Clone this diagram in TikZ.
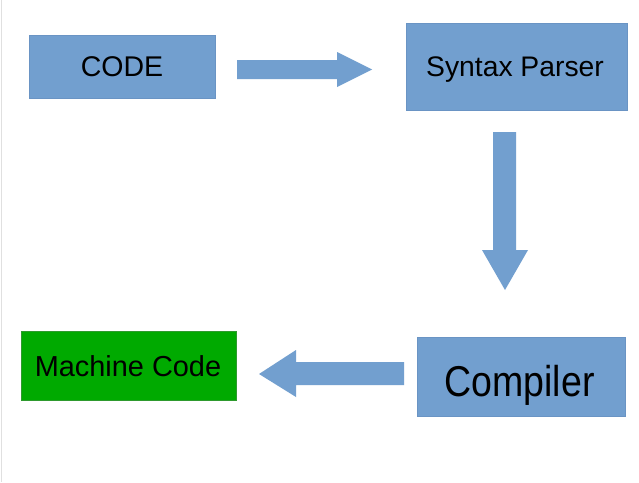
\documentclass[tikz,border=0pt]{standalone}
\usepackage{graphicx}
\usepackage{fontspec}
\setmainfont{Liberation Sans}
\definecolor{boxblue}{HTML}{729FCF}
\definecolor{edgeblue}{HTML}{6A94C4}
\definecolor{boxgreen}{HTML}{00AA00}
\definecolor{edgegreen}{HTML}{2E9A2E}
\tikzset{
  blockbox/.style={draw=edgeblue, fill=boxblue, line width=0.6pt},
  greenbox/.style={draw=edgegreen, fill=boxgreen, line width=0.6pt},
  blockarrow/.style={fill=boxblue, draw=none},
  lbl/.style={inner sep=0pt, text=black, anchor=base}
}
\begin{document}
\begin{tikzpicture}[x=1pt,y=-1pt]
\useasboundingbox (0,0) rectangle (639,482);
\fill[white] (0,0) rectangle (639,482);
\draw[black!12, line width=1pt] (1,0) -- (1,482);
% boxes
\path[blockbox] (29,35) rectangle (215,98);
\node[lbl, font=\fontsize{28.5}{30}\selectfont] (code) at (122,76.7) {CODE};
\path[blockbox] (406,23) rectangle (627,110);
\node[lbl, font=\fontsize{28.3}{30}\selectfont] (parser) at (515,76.7) {Syntax Parser};
\path[blockbox] (417,337) rectangle (625,416);
\node[lbl, font=\fontsize{37.5}{40}\selectfont] (compiler) at (519.5,396) {\scalebox{1}[1.15]{Compiler}};
\path[greenbox] (21,331) rectangle (236,400);
\node[lbl, font=\fontsize{28.9}{30}\selectfont] (machine) at (128,376) {Machine Code};
% block arrows
\path[blockarrow] (237,60) -- (337,60) -- (337,52) -- (372,69.5) -- (337,87) -- (337,79) -- (237,79) -- cycle;
\path[blockarrow] (493,132) -- (516,132) -- (516,250) -- (528,250) -- (505,290) -- (482,250) -- (493,250) -- cycle;
\path[blockarrow] (404,362) -- (296,362) -- (296,350) -- (259,374) -- (296,397) -- (296,385) -- (404,385) -- cycle;
\end{tikzpicture}
\end{document}
